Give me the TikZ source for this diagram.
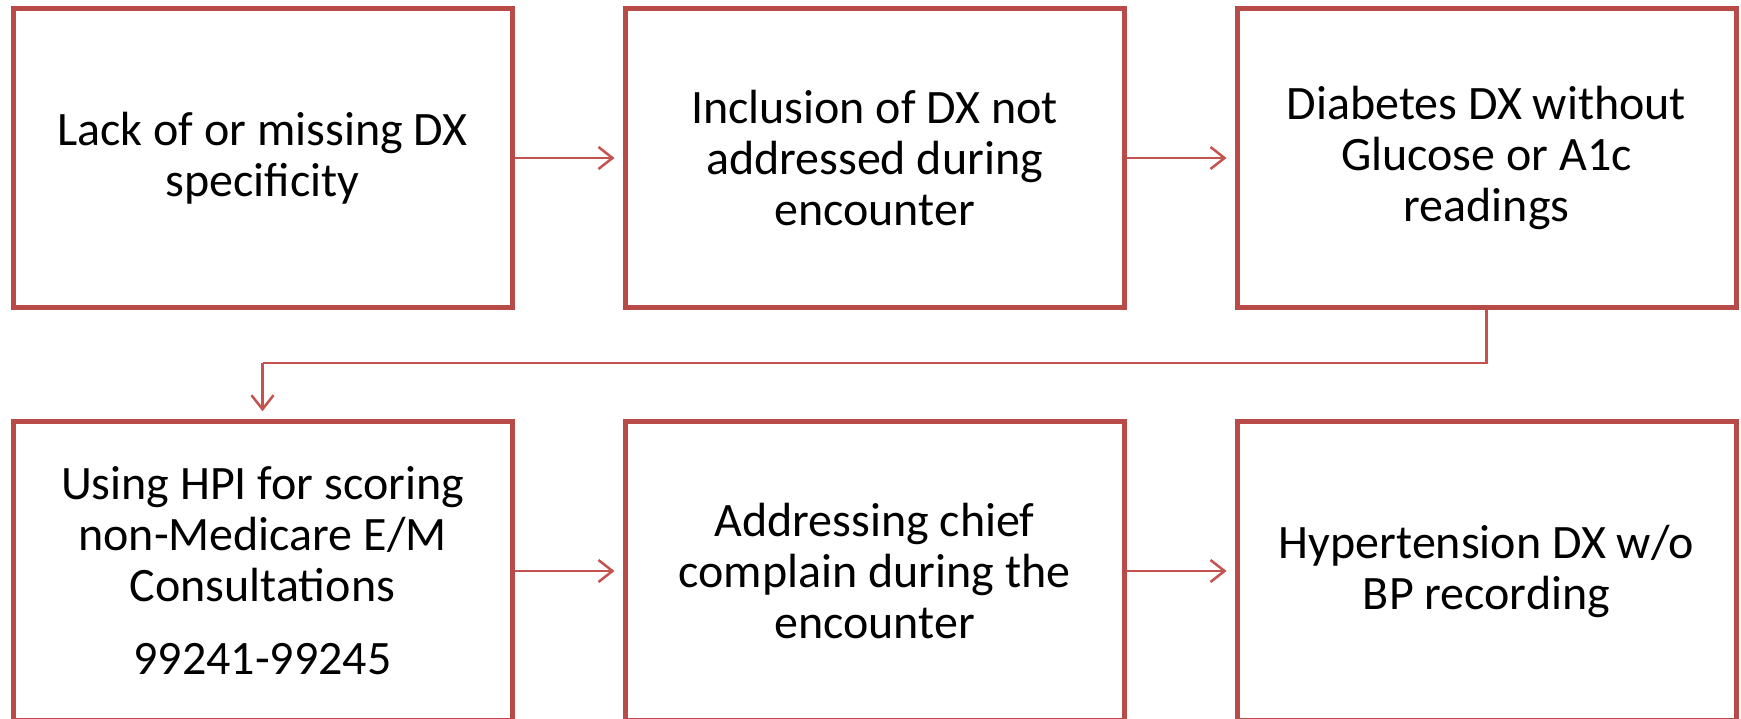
\documentclass[tikz,border=0pt]{standalone}
\usepackage{fontspec}
\setmainfont{Carlito}
\usetikzlibrary{arrows.meta,positioning}
\definecolor{boxred}{RGB}{184,74,71}
\definecolor{linkred}{RGB}{196,82,78}

\begin{document}
\begin{tikzpicture}[x=1pt,y=-1pt]
		\tikzstyle{every node}=[font=\fontsize{48}{51}\selectfont]
		\tikzstyle{stepbox}=[draw=boxred, line width=5pt, minimum width=499pt, minimum height=298.5pt, align=center, inner sep=0pt]
		\tikzstyle{link}=[draw=linkred, line width=2.5pt, -{Straight Barb[length=14pt,width=22pt]}]
		\useasboundingbox (0,0) rectangle (1741,718);
		% top row
		\node [stepbox] (lack) at (262.5,158) {Lack of or missing DX\\specificity};
		\node [stepbox] (incl) at (874.5,158) {Inclusion of DX not\\addressed during\\encounter};
		\node [stepbox] (diab) at (1486.5,158) {Diabetes DX without\\Glucose or A1c\\readings};
		% bottom row
		\node [stepbox] (hpi) at (262.5,571) {Using HPI for scoring\\non-Medicare E/M\\Consultations\\[22pt]99241-99245};
		\node [stepbox] (chief) at (874.5,571) {Addressing chief\\complain during the\\encounter};
		\node [stepbox] (hyper) at (1486.5,571) {Hypertension DX w/o\\BP recording};
		\coordinate (turn) at (262.5,363);
		\draw [link, shorten >=8pt] (lack) -- (incl);
		\draw [link, shorten >=8pt] (incl) -- (diab);
		\draw [link, -, line width=2.5pt] (diab.south) |- (turn);
		\draw [link, shorten >=8pt] (turn) -- (hpi.north);
		\draw [link, shorten >=8pt] (hpi) -- (chief);
		\draw [link, shorten >=8pt] (chief) -- (hyper);
	\end{tikzpicture}
\end{document}
